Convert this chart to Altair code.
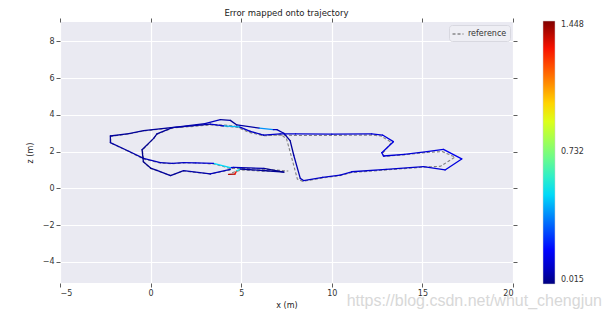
import altair as alt
import pandas as pd

# Estimated trajectory (x, z) and the error (m) at each point
traj_x = [4.30, 4.65, 4.75, 4.95, 6.20, 7.35, 6.25, 5.00, 4.58, 4.40, 3.47, 2.50, 1.82, 1.20,
          0.54, -0.39, -1.20, -2.22, -2.22, -1.20, -0.39, 1.64, 3.00, 3.85, 4.40, 4.76, 6.00,
          6.77, 6.97, 7.35, 7.70, 7.90, 8.26, 8.44, 9.50, 10.46, 11.10, 13.00, 15.06, 16.25,
          17.17, 16.16, 15.25, 14.00, 12.85, 12.76, 13.40, 12.80, 12.20, 10.00, 8.00, 7.15,
          6.23, 5.50, 4.90, 4.03, 3.30, 1.20, 0.35, 0.17, -0.47, -0.40, 0.00, 0.35, 1.10,
          1.82, 3.29, 4.40]
traj_z = [0.76, 0.77, 0.95, 1.05, 0.97, 0.88, 1.08, 1.13, 1.14, 1.12, 1.36, 1.38, 1.40, 1.36,
          1.40, 1.63, 2.02, 2.49, 2.85, 2.98, 3.14, 3.36, 3.52, 3.74, 3.70, 3.45, 3.28,
          3.20, 3.20, 3.00, 2.60, 1.80, 0.54, 0.42, 0.60, 0.72, 0.90, 1.03, 1.18, 1.00,
          1.60, 2.12, 2.00, 1.85, 1.76, 1.94, 2.54, 2.90, 2.96, 2.95, 2.96, 2.96,
          2.90, 3.10, 3.35, 3.40, 3.50, 3.30, 2.96, 2.72, 2.10, 1.45, 1.10, 0.98, 0.69,
          0.96, 0.78, 1.03]
traj_err = [1.40, 1.30, 0.55, 0.05, 0.04, 0.03, 0.07, 0.10, 0.12, 0.50, 0.12, 0.11, 0.10, 0.09,
            0.09, 0.07, 0.06, 0.05, 0.05, 0.05, 0.05, 0.07, 0.09, 0.05, 0.04, 0.06, 0.40,
            0.09, 0.07, 0.05, 0.05, 0.07, 0.09, 0.10, 0.11, 0.11, 0.11, 0.11, 0.12, 0.13,
            0.15, 0.13, 0.12, 0.12, 0.13, 0.13, 0.13, 0.12, 0.11, 0.11, 0.11, 0.11,
            0.10, 0.11, 0.45, 0.11, 0.07, 0.05, 0.04, 0.04, 0.03, 0.03, 0.04, 0.05, 0.05,
            0.07, 0.09, 0.16]

# Reference (ground truth) trajectory
ref_x = [4.50, 5.00, 6.20, 7.60, 6.30, 5.00, 4.40, 3.50, 2.50, 1.80, 1.20, 0.50, -0.40, -1.20,
         -2.20, -2.20, -1.20, -0.40, 1.60, 3.00, 4.00, 4.70, 5.50, 6.30, 7.20, 7.50, 7.75,
         8.10, 8.40, 9.50, 10.50, 11.10, 13.00, 15.00, 16.00, 16.80, 16.10, 15.20, 14.00,
         12.90, 12.80, 13.30, 12.70, 12.20, 10.00, 8.00, 7.10, 6.20, 5.40, 4.80, 4.00, 3.30,
         1.20, 0.35, 0.15, -0.45, -0.38, 0.00, 0.35, 1.10, 1.80, 3.30, 4.40]
ref_z = [0.85, 1.00, 0.93, 0.94, 1.04, 1.08, 1.08, 1.32, 1.38, 1.38, 1.34, 1.38, 1.60, 2.00,
         2.47, 2.83, 2.96, 3.12, 3.34, 3.48, 3.45, 3.38, 3.10, 2.88, 2.92, 2.70, 1.80,
         0.50, 0.38, 0.56, 0.70, 0.86, 1.00, 1.15, 1.20, 1.70, 2.00, 1.95, 1.82,
         1.74, 1.90, 2.50, 2.85, 2.90, 2.88, 2.88, 2.90, 2.86, 3.06, 3.32, 3.38, 3.45,
         3.28, 2.94, 2.70, 2.08, 1.43, 1.08, 0.96, 0.70, 0.94, 0.78, 1.00]

err_min, err_max = 0.015, 1.448
x_ticks = [-5, 0, 5, 10, 15, 20]
y_ticks = [-4, -2, 0, 2, 4, 6, 8]

seg = pd.DataFrame({
    "x": traj_x[:-1], "z": traj_z[:-1],
    "x2": traj_x[1:], "z2": traj_z[1:],
    "err": traj_err[:-1],
})
ref = pd.DataFrame({"x": ref_x, "z": ref_z, "i": list(range(len(ref_x))),
                    "name": ["reference"] * len(ref_x)})

# jet colormap
jet_t = [0, 0.11, 0.125, 0.35, 0.5, 0.64, 0.66, 0.89, 1.0]
jet_c = ["#000080", "#0000ff", "#0000ff", "#00e5f8", "#7cff79", "#eeff08", "#ffee00",
         "#ff1300", "#800000"]
jet_domain = [err_min + t * (err_max - err_min) for t in jet_t]

xscale = alt.Scale(domain=[-5, 20], nice=False, zero=False)
yscale = alt.Scale(domain=[-5.16, 9.06], nice=False, zero=False)

tick_axis = dict(tickColor="#333333", tickSize=4, tickWidth=0.8, domain=False,
                 labelFontSize=8, labelColor="#333333", labelFont="DejaVu Sans")

ref_line = alt.Chart(ref).mark_line(strokeWidth=1.1, color="#808080").encode(
    x=alt.X("x:Q", scale=xscale,
            axis=alt.Axis(values=x_ticks, title="x (m)", titleFontSize=8,
                          titleFontWeight="normal", titleColor="#222222",
                          titleFont="DejaVu Sans", titlePadding=4, labelPadding=2,
                          grid=True, gridColor="white", gridWidth=1.2, gridOpacity=1,
                          **tick_axis)),
    y=alt.Y("z:Q", scale=yscale,
            axis=alt.Axis(values=y_ticks, title="z (m)", titleFontSize=8,
                          titleFontWeight="normal", titleColor="#222222",
                          titleFont="DejaVu Sans", titlePadding=8, labelPadding=2,
                          grid=True, gridColor="white", gridWidth=1.2, gridOpacity=1,
                          **tick_axis)),
    order="i:Q",
    strokeDash=alt.StrokeDash("name:N",
                              scale=alt.Scale(domain=["reference"], range=[[3, 2]]),
                              legend=alt.Legend(title=None, orient="top-right",
                                                symbolType="stroke", symbolStrokeColor="#555555",
                                                symbolSize=120, symbolStrokeWidth=1,
                                                labelFontSize=8, labelColor="#333333",
                                                labelFont="DejaVu Sans",
                                                fillColor="#eeeef4", strokeColor="#d8d8e0",
                                                cornerRadius=3, padding=3, offset=3)),
)

traj = alt.Chart(seg).mark_rule(strokeWidth=1.3, strokeCap="round").encode(
    x=alt.X("x:Q", scale=xscale, axis=None),
    y=alt.Y("z:Q", scale=yscale, axis=None),
    x2="x2:Q",
    y2="z2:Q",
    color=alt.Color("err:Q",
                    scale=alt.Scale(domain=jet_domain, range=jet_c, interpolate="rgb",
                                    zero=False, nice=False),
                    legend=alt.Legend(title=None, orient="none", legendX=483, legendY=-1,
                                      direction="vertical", gradientLength=263,
                                      gradientThickness=12, values=[err_min, 0.732, err_max],
                                      format=".3f", labelFontSize=8, labelColor="#333333",
                                      labelFont="DejaVu Sans", labelOffset=6,
                                      gradientStrokeColor="#cccccc", gradientStrokeWidth=0.5)),
)

# secondary tick-only axes on top and right
frame = alt.Chart(ref).mark_point(opacity=0).encode(
    x=alt.X("x:Q", scale=xscale,
            axis=alt.Axis(orient="top", values=x_ticks, labels=False, title=None, grid=False,
                          tickColor="#333333", tickSize=4, tickWidth=0.8, domain=False)),
    y=alt.Y("z:Q", scale=yscale,
            axis=alt.Axis(orient="right", values=y_ticks, labels=False, title=None, grid=False,
                          tickColor="#333333", tickSize=4, tickWidth=0.8, domain=False)),
)

watermark = alt.Chart(pd.DataFrame({"t": ["https://blog.csdn.net/whut_chengjun"]})).mark_text(
    align="right", baseline="alphabetic", fontSize=16, color="#d8d8d8",
    font="Liberation Sans"
).encode(text="t:N", x=alt.value(542), y=alt.value(284))

chart = alt.layer(ref_line, traj, frame, watermark).resolve_axis(
    x="independent", y="independent"
).resolve_legend(color="independent", strokeDash="independent").properties(
    width=453, height=261,
    view=alt.ViewBackground(fill="#EAEAF2", stroke=None),
    title=alt.TitleParams("Error mapped onto trajectory", fontSize=8.5,
                          fontWeight="normal", color="#222222", font="DejaVu Sans",
                          anchor="middle", offset=0),
    padding={"left": 60, "top": 22, "right": 98, "bottom": 36},
    autosize=alt.AutoSizeParams(type="none"),
).configure_view(fill="#EAEAF2", stroke=None).configure_axis(domain=False).configure(
    background="white")

chart.save("out.html", embed_options={"renderer": "svg", "actions": False})
